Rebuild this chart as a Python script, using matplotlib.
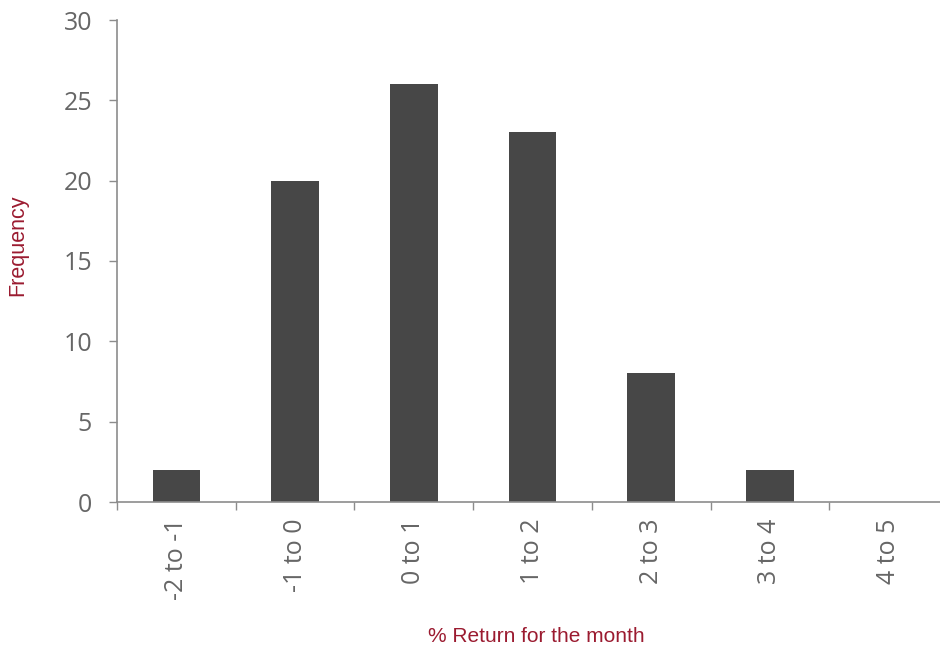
import matplotlib
matplotlib.use("Agg")
import matplotlib.pyplot as plt
from matplotlib.ticker import FixedLocator, MultipleLocator, NullFormatter

categories = ["-2 to -1", "-1 to 0", "0 to 1", "1 to 2", "2 to 3", "3 to 4", "4 to 5"]
frequency = [2, 20, 26, 23, 8, 2, 0]

BAR_COLOR = "#474747"
AXIS_COLOR = "#8c8c8c"
TICK_TEXT_COLOR = "#666666"
TITLE_COLOR = "#9b1b30"
TICK_FONT = ["Open Sans", "DejaVu Sans"]
TITLE_FONT = ["Liberation Sans Narrow", "Liberation Sans", "DejaVu Sans"]

W, H = 940, 653
fig = plt.figure(figsize=(W / 100, H / 100), dpi=100)
left, right, top, bottom = 117, 948, 20, 502
ax = fig.add_axes([left / W, 1 - bottom / H, (right - left) / W, (bottom - top) / H])

x = list(range(len(categories)))
ax.bar(x, frequency, width=0.4, color=BAR_COLOR, zorder=2)

ax.set_xlim(-0.5, len(categories) - 0.5)
ax.set_ylim(0, 30)
ax.yaxis.set_major_locator(MultipleLocator(5))

# category labels centred, tick marks between categories
ax.set_xticks(x)
ax.set_xticklabels(categories, rotation=90, fontsize=18, color=TICK_TEXT_COLOR, family=TICK_FONT)
ax.tick_params(axis="x", which="major", length=0, pad=12)
ax.xaxis.set_minor_locator(FixedLocator([i - 0.5 for i in range(len(categories) + 1)]))
ax.xaxis.set_minor_formatter(NullFormatter())
ax.tick_params(axis="x", which="minor", length=6, width=1, color=AXIS_COLOR, direction="out")

ax.tick_params(axis="y", length=6, width=1, color=AXIS_COLOR, direction="out", pad=12,
               labelsize=18, labelcolor=TICK_TEXT_COLOR)
for lbl in ax.get_yticklabels():
    lbl.set_family(TICK_FONT)

for side in ("top", "right"):
    ax.spines[side].set_visible(False)
for side in ("left", "bottom"):
    ax.spines[side].set_color(AXIS_COLOR)
    ax.spines[side].set_linewidth(1.2)

fig.text(18 / W, 1 - 245 / H, "Frequency", rotation=90, ha="center", va="center",
         fontsize=15.5, color=TITLE_COLOR, family=TITLE_FONT)
fig.text(536 / W, 1 - 637 / H, "% Return for the month", ha="center", va="center",
         fontsize=15, color=TITLE_COLOR, family=TITLE_FONT)

fig.savefig("out.png", dpi=100)
